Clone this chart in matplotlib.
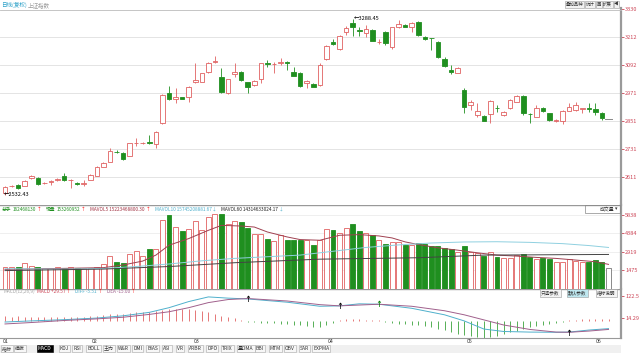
import matplotlib
matplotlib.use("Agg")
import matplotlib.pyplot as plt
from matplotlib.patches import Rectangle

plt.rcParams['font.family'] = ['Noto Sans CJK SC', 'DejaVu Sans']

# ---- daily candles ----
opens = [2540, 2570, 2575, 2571, 2604, 2607, 2582, 2589, 2598, 2616, 2595, 2585, 2581,
         2597, 2615, 2654, 2676, 2719, 2714, 2700, 2755, 2756, 2761, 2751, 2840, 2972,
         2946, 2951, 2954, 3016, 3019, 3062, 3103, 3040, 2969, 3052, 3062, 3016, 3005,
         3029, 3099, 3094, 3098, 3105, 3059, 3057, 3015, 3009, 3003, 3115, 3188, 3159,
         3234, 3272, 3240, 3226, 3241, 3188, 3234, 3169, 3255, 3262, 3255, 3276, 3212,
         3206, 3191, 3117, 3070, 3058, 2983, 2919, 2876, 2872, 2880, 2905, 2876, 2904,
         2933, 2957, 2881, 2869, 2904, 2883, 2851, 2851, 2894, 2897, 2903, 2905, 2902,
         2886, 2860]
highs = [2572, 2576, 2578, 2596, 2619, 2610, 2587, 2597, 2606, 2625, 2600, 2588, 2597,
         2621, 2656, 2673, 2733, 2724, 2716, 2756, 2776, 2762, 2790, 2806, 2964, 3000,
         2990, 2955, 3001, 3098, 3058, 3103, 3129, 3076, 3031, 3098, 3066, 3019, 3026,
         3101, 3112, 3105, 3119, 3108, 3083, 3060, 3026, 3012, 3098, 3175, 3201, 3218,
         3258, 3288.45, 3255, 3262, 3244, 3200, 3237, 3255, 3284, 3265, 3275, 3279, 3215,
         3208, 3194, 3125, 3090, 3082, 2990, 2940, 2929, 2875, 2940, 2919, 2895, 2943,
         2960, 2960, 2884, 2919, 2910, 2886, 2857, 2897, 2926, 2933, 2907, 2926, 2926,
         2889, 2860]
lows = [2532.43, 2567, 2558, 2569, 2602, 2576, 2578, 2575, 2594, 2594, 2561, 2575, 2573,
        2595, 2613, 2652, 2674, 2714, 2683, 2698, 2743, 2750, 2750, 2736, 2838, 2940,
        2929, 2943, 2933, 3013, 3016, 3055, 3100, 2970, 2966, 3040, 3022, 2972, 3000,
        3012, 3083, 3055, 3090, 3069, 3043, 2997, 2993, 2994, 3000, 3112, 3178, 3156,
        3219, 3215, 3215, 3212, 3192, 3180, 3176, 3158, 3248, 3252, 3234, 3215, 3198,
        3155, 3120, 3084, 3050, 3055, 2883, 2897, 2869, 2848, 2840, 2890, 2872, 2901,
        2930, 2876, 2840, 2866, 2890, 2851, 2845, 2837, 2891, 2894, 2886, 2890, 2876,
        2855, 2860]
closes = [2568, 2572, 2561, 2594, 2615, 2580, 2583, 2591, 2601, 2597, 2597, 2578, 2583,
          2618, 2654, 2671, 2723, 2718, 2686, 2754, 2757, 2757, 2754, 2804, 2962, 2943,
          2954, 2946, 2998, 3026, 3055, 3100, 3109, 2973, 3029, 3062, 3026, 2995, 3023,
          3098, 3096, 3096, 3105, 3100, 3045, 3000, 3022, 2997, 3090, 3172, 3181, 3216,
          3248, 3252, 3238, 3244, 3195, 3190, 3184, 3252, 3265, 3255, 3272, 3219, 3203,
          3205, 3126, 3086, 3062, 3078, 2912, 2930, 2894, 2851, 2937, 2904, 2890, 2940,
          2957, 2886, 2880, 2904, 2894, 2854, 2854, 2894, 2912, 2919, 2905, 2900, 2890,
          2862, 2860]

# volume, unit 1e5 hands
volumes = [1739, 1739, 1739, 2000, 1817, 1739, 1662, 1610, 1688, 1610, 1688, 1610, 1610,
           1610, 1688, 1921, 2571, 2077, 2051, 2700, 2987, 2571, 3090, 3116, 5375, 5765,
           4856, 4518, 4674, 5323, 4596, 5635, 5894, 5894, 5115, 5323, 5245, 4778, 4336,
           4336, 3946, 3765, 4207, 3868, 3868, 3868, 3817, 3479, 3868, 4725, 4596, 4414,
           4778, 5115, 4518, 4388, 4258, 3868, 3557, 3687, 3687, 3479, 3479, 3609, 3505,
           3350, 3376, 3246, 3116, 2908, 3376, 2856, 2778, 2596, 2908, 2467, 2389, 2441,
           2649, 2700, 2467, 2337, 2389, 2311, 2077, 2129, 2311, 2207, 2129, 2129, 2259,
           2129, 1625]

# volume average lines (index, value)
mavol5_idx = [0, 15, 18, 21, 23, 25, 28, 31, 33, 36, 38, 40, 43, 45, 48, 51, 54, 57, 59,
              61, 63, 66, 69, 72, 75, 78, 81, 84, 87, 90, 92]
mavol5_val = [1522, 1662, 1870, 2181, 2648, 3427, 3946, 4596, 4986, 4934, 4856, 4466, 4077,
              3868, 3817, 4207, 4258, 4155, 3999, 3687, 3479, 3220, 3038, 2830, 2648, 2570,
              2467, 2389, 2259, 2129, 1921]
mavol10_idx = [0, 10, 15, 20, 25, 30, 35, 40, 45, 50, 55, 60, 65, 70, 75, 80, 85, 89, 92]
mavol10_val = [1575, 1550, 1600, 1750, 1950, 2200, 2390, 2520, 2650, 2950, 3250, 3450, 3600,
               3680, 3700, 3650, 3550, 3400, 3250]
mavol60_idx = [0, 15, 25, 35, 48, 63, 73, 92]
mavol60_val = [1431, 1550, 1750, 2050, 2330, 2441, 2649, 2700]

# MACD lines (index, value) and histogram
macd_idx = [0, 4, 9, 14, 18, 22, 25, 28, 31, 34, 37, 40, 43, 48, 51, 54, 57, 62, 67, 70,
            73, 76, 80, 84, 86, 89, 92]
dif_val = [-5.5, 0, 6, 14, 25, 42, 65, 95, 118, 112, 108, 100, 92, 72, 74, 84, 82, 62, 30, 0,
           -40, -52, -55, -56, -55, -45, -38]
dea_val = [-15, -8, 2, 10, 18, 32, 45, 65, 90, 105, 110, 104, 98, 80, 74, 78, 82, 72, 50, 30,
           5, -20, -42, -55, -56, -50, -42]
macd_hist = [22, 21, 22, 21, 20, 20, 19, 19, 20, 19, 18, 18, 19,
             22, 25, 28, 32, 35, 36, 40, 42,
             44, 46, 50, 55, 58, 60, 60, 58, 55, 50,
             42, 34, 26, 18, 12, 6,
             -4, -6, -8, -10, -12, -14, -16, -18, -22, -26, -30, -28, -22, -12,
             4, 7, 8, 8, 6, 4, 2,
             -6, -10, -14, -16, -18, -20,
             -24, -30, -38, -46, -55, -62, -70, -76, -80, -82, -78,
             -72, -64, -56, -48, -40, -32, -26, -20, -14, -8, -3,
             4, 6, 8, 8, 9, 8, 7]
cross_idx = [37, 51, 57, 86]
cross_val = [108, 74, 84, -56]
cross_col = ['black', 'black', 'green', 'black']

price_ticks = [3330, 3212, 3092, 2971, 2851, 2731, 2611]
vol_ticks = [5838, 4384, 2919, 1475]
macd_ticks = [122.5, 14.29]
month_labels = ['01', '02', '03', '04', '05', '06']
month_idx = [-0.3, 13.3, 28.7, 49.2, 70.4, 90.1]
tabs = ['指标', '模板', 'MACD', 'KDJ', 'RSI', 'BOLL', '主力', 'W&R', 'DMI', 'BIAS', 'ASI',
        'VR', 'ARBR', 'DPO', 'TRIX', '量DMA', 'BBI', 'MTM', 'OBV', 'SAR', 'EXPMA']
tab_x = [2, 15, 38, 60, 73, 87, 104, 118, 133, 147, 163, 177, 189, 207, 222, 238, 256, 270,
         285, 300, 313]
top_buttons = ['叠加品种', '统计', '画', '扩展', '◀']

RED = '#e06060'
GREEN = '#1f8f1f'
LBL = '#cc4455'
W, H = 640, 353
fig = plt.figure(figsize=(W / 100, H / 100), dpi=100)
fig.patch.set_facecolor('white')
renderer = fig.canvas.get_renderer()


def px_axes(x0, y0, x1, y1):
    return fig.add_axes([x0 / W, 1 - y1 / H, (x1 - x0) / W, (y1 - y0) / H])


def ftext(x, y, s, **kw):
    kw.setdefault('fontsize', 4)
    kw.setdefault('va', 'center')
    return fig.text(x / W, 1 - y / H, s, **kw)


def text_row(x, y, parts, fontsize, gap=1.5, box=None):
    # lay text pieces left to right, each starting where the previous one ended
    for s, c, extra in parts:
        kw = {}
        if box is not None:
            kw['bbox'] = box
        t = ftext(x + extra, y, s, color=c, fontsize=fontsize, **kw)
        x = t.get_window_extent(renderer).x1 + gap


XL = (-5 / 6.56, 616 / 6.56)
n = len(closes)
xs = list(range(n))


def style(ax):
    ax.set_xlim(*XL)
    ax.set_xticks([])
    for s in ['top', 'left', 'bottom']:
        ax.spines[s].set_visible(False)
    ax.spines['right'].set_color('#9a9a9a')
    ax.spines['right'].set_linewidth(1.6)
    ax.yaxis.tick_right()
    ax.tick_params(axis='y', length=2, width=0.6, colors=LBL, labelsize=4, pad=1)
    ax.set_facecolor('white')


# ---- price panel ----
ax = px_axes(0, 8, 621, 205)
style(ax)
ax.set_ylim(2489.5, 3335.2)
ax.set_yticks(price_ticks)
ax.set_yticklabels([str(t) for t in price_ticks])
for t in price_ticks[1:]:
    ax.axhline(t, color='#e4e4e4', lw=0.7, zorder=0)
bw = 0.7
for i in xs:
    o, h, l, c = opens[i], highs[i], lows[i], closes[i]
    if i == n - 1:
        ax.plot([i - 0.5, i + 0.5], [c, c], color='#888888', lw=0.7)
        continue
    up = c >= o
    col = RED if up else GREEN
    top, bot = max(o, c), min(o, c)
    ax.vlines(i, top, h, color=col, lw=0.6)
    ax.vlines(i, l, bot, color=col, lw=0.6)
    ax.add_patch(Rectangle((i - bw / 2, bot), bw, max(top - bot, 0.8),
                           facecolor='white' if up else col, edgecolor=col, lw=0.6))
i_lo = lows.index(min(lows))
i_hi = highs.index(max(highs))
ax.text(i_lo - 0.2, lows[i_lo], '←' + f'{lows[i_lo]:.2f}', fontsize=4, va='center', ha='left')
ax.text(i_hi + 0.1, highs[i_hi], '←' + f'{highs[i_hi]:.2f}', fontsize=4, va='center', ha='left')

# ---- volume panel ----
av = px_axes(0, 205, 621, 288.8)
style(av)
av.set_ylim(0, 6587)
av.set_yticks(vol_ticks)
av.set_yticklabels([str(t) for t in vol_ticks])
for t in vol_ticks:
    av.axhline(t, color='#ececec', lw=0.6, zorder=0)
for i in xs:
    if i == n - 1:
        fc, ec = 'white', '#777777'
    elif closes[i] >= opens[i]:
        fc, ec = 'white', RED
    else:
        fc, ec = GREEN, GREEN
    av.bar(i, volumes[i], width=0.76, facecolor=fc, edgecolor=ec, lw=0.6)
av.plot(mavol5_idx, mavol5_val, color='#a04050', lw=0.7)
av.plot(mavol10_idx, mavol10_val, color='#8fd0e0', lw=0.7)
av.plot(mavol60_idx, mavol60_val, color='#444444', lw=0.7)
av.axhline(6587, color='#999999', lw=1.0)

# ---- MACD panel ----
am = px_axes(0, 288.8, 621, 338)
style(am)
am.set_ylim(-84.1, 157.9)
am.set_yticks(macd_ticks)
am.set_yticklabels(['122.5', '14.29'])
for i in xs:
    v = macd_hist[i]
    am.vlines(i, 0, v, color=RED if v >= 0 else '#3aa23a', lw=0.6)
am.plot(macd_idx, dif_val, color='#4fb0cc', lw=0.7)
am.plot(macd_idx, dea_val, color='#a0608c', lw=0.7)
for ci, cv, cc in zip(cross_idx, cross_val, cross_col):
    am.text(ci, cv, '↑', color=cc, fontsize=5, fontweight='bold', ha='center', va='center')
am.axhline(157.9, color='#999999', lw=1.0)
am.spines['bottom'].set_visible(True)
am.spines['bottom'].set_color('#999999')

# ---- headers / UI text ----
ftext(1, 5, '日线(复权)', color='#2aa0c8')
ftext(28, 5, '上证指数', color='#999999')
fig.add_artist(plt.Line2D([0, 621 / W], [1 - 9.5 / H, 1 - 9.5 / H], color='#bbbbbb', lw=0.6))
text_row(566, 4.5, [(b, '#333333', 0) for b in top_buttons], fontsize=3.2, gap=2.2,
         box=dict(boxstyle='square,pad=0.15', fc='#f2f2f2', ec='#999999', lw=0.4))

# volume header
text_row(2, 209.5, [('总手', GREEN, 0), ('162468130', GREEN, 0), ('↑', 'red', -1),
                    ('现量', GREEN, 3), ('153260952', GREEN, 0), ('↑', 'red', -1),
                    ('MAVOL5 15223468800.30', '#a03040', 3), ('↑', 'red', -1),
                    ('MAVOL10 15745208881.67', '#4fb0cc', 3), ('↓', '#4fb0cc', -1),
                    ('MAVOL60 14314633024.17', '#222222', 3), ('↓', '#4fb0cc', -1)],
         fontsize=3.4)
ftext(600, 209, '成交量', fontsize=3.5, color='#333333')
ftext(615, 209, '▾', fontsize=3.5, color='#333333')
fig.add_artist(Rectangle((585 / W, 1 - 213 / H), 35 / W, 8 / H, transform=fig.transFigure,
                         fill=False, ec='#888888', lw=0.5))

# macd header
text_row(3, 291.5, [('MACD(12,26,9)', '#aaaaaa', 0), ('MACD +29.57', '#cc4455', 1),
                    ('↑', 'red', -1), ('DIFF -5.51', '#4fb0cc', 3), ('↑', 'red', -1),
                    ('DEA -15.00', '#a0608c', 3), ('↑', 'red', -1)], fontsize=3.4)
for bx, bl, bc in zip([541, 568, 597], ['只选参数', '默认参数', '指标说明'],
                      ['#f4f4f4', '#bfe8f0', '#f4f4f4']):
    ftext(bx, 293, bl, fontsize=3.3, color='#333333',
          bbox=dict(boxstyle='square,pad=0.25', fc=bc, ec='#999999', lw=0.4))

# month labels
for mi, ml in zip(month_idx, month_labels):
    ftext(5 + 6.56 * mi, 341.5, ml, fontsize=3.8, color='#333333')

# tab bar
fig.add_artist(Rectangle((0, 0), 621 / W, 8.5 / H, transform=fig.transFigure,
                         fc='#f0f0f0', ec='none'))
for tx, tl in zip(tab_x, tabs):
    if tl == 'MACD':
        ftext(tx, 348.5, tl, fontsize=3.6, color='white',
              bbox=dict(boxstyle='square,pad=0.2', fc='black', ec='black', lw=0.4))
    else:
        ftext(tx, 348.5, tl, fontsize=3.6, color='#333333',
              bbox=dict(boxstyle='square,pad=0.2', fc='#f7f7f7', ec='#aaaaaa', lw=0.4))

fig.savefig('out.png', dpi=100)
